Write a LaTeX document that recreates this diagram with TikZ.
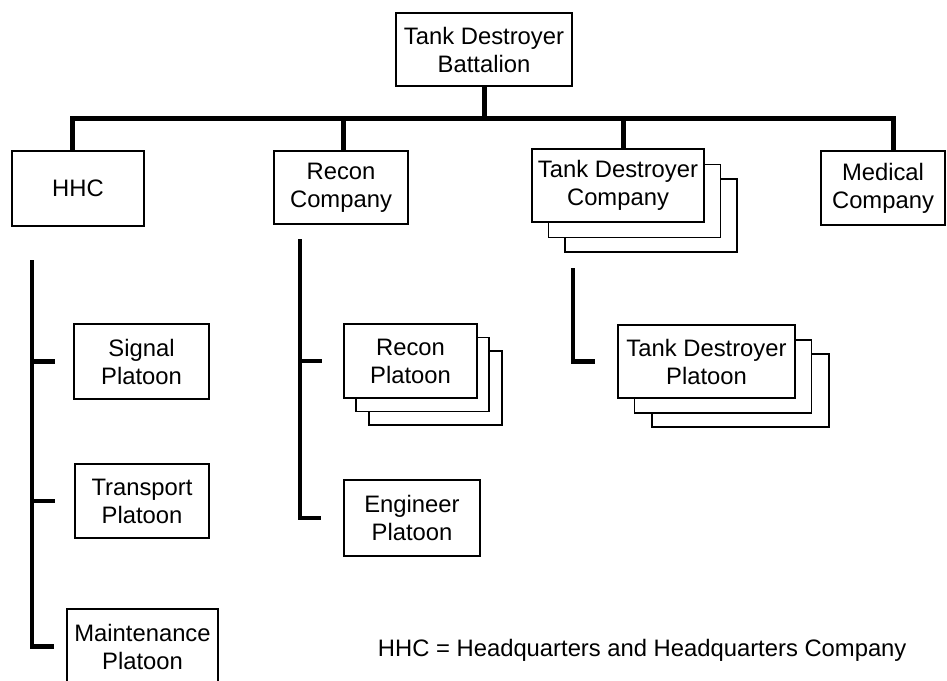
\documentclass[tikz,border=0pt]{standalone}
\usepackage{fontspec}
\setmainfont{Liberation Sans}
\usetikzlibrary{calc}

\tikzset{
  every node/.style = {font = \fontsize{23.8}{28}\selectfont}
}
\tikzset{
  box/.style 2 args = {draw, line width=1.8pt, fill=white, align=center,
    inner sep=0pt, minimum width=#1pt, minimum height=#2pt},
  bar/.style = {line width=5pt},
  tree/.style = {line width=4.5pt}
}

\begin{document}
\begin{tikzpicture}[x=1pt, y=-1pt]
\useasboundingbox (0,0) rectangle (947,680);
\clip (0,0) rectangle (947,680);

% Top level
\node[box={176}{73}] (bat) at (484,49.5) {Tank Destroyer\\Battalion};

% Companies
\node[box={132}{75}] (hhc) at (78,188.5) {HHC};
\node[box={134}{73}] (rco) at (341,187.5) {Recon\\Company};
\foreach \dx/\dy in {33/30, 16.5/15.5}
  \node[box={172}{73}] at ({618+\dx},{185.5+\dy}) {};
\node[box={172}{73}] (tdco) at (618,185.5) {Tank Destroyer\\Company};
\node[box={124}{74}] (med) at (883,188) {Medical\\Company};

% Platoons under HHC
\node[box={135}{75}] (sig) at (141.5,361.5) {Signal\\Platoon};
\node[box={134}{74}] (trn) at (142,501) {Transport\\Platoon};
\node[box={151}{75}] (mnt) at (142.5,646.5) {Maintenance\\Platoon};

% Platoons under Recon
\foreach \dx/\dy in {25/27, 12/13.5}
  \node[box={133}{74}] at ({410.5+\dx},{361+\dy}) {};
\node[box={133}{74}] (rpl) at (410.5,361) {Recon\\Platoon};
\node[box={136}{76}] (eng) at (412,518) {Engineer\\Platoon};

% Platoons under TD company
\foreach \dx/\dy in {34/29, 16.5/15}
  \node[box={177}{73}] at ({706.5+\dx},{361.5+\dy}) {};
\node[box={177}{73}] (tdpl) at (706.5,361.5) {Tank Destroyer\\Platoon};

% Key
\node[anchor=east] (key) at (910,650) {HHC = Headquarters and Headquarters Company};

% Battalion to companies
\coordinate (bar) at (0,118);
\draw[bar] (bat.south) -- (bat.south |- bar);
\draw[bar] ([xshift=-6pt]hhc.north) |- ([xshift=10pt]med.north |- bar) -- ([xshift=10pt]med.north);
\draw[bar] ([xshift=2pt]rco.north) -- ([xshift=2pt]rco.north |- bar);
\draw[bar] ([xshift=5pt]tdco.north) -- ([xshift=5pt]tdco.north |- bar);

% Company lines
\coordinate (hhcl) at (32,260);
\draw[tree] (hhcl) |- ([xshift=-12pt]mnt.west);
\foreach \n in {sig, trn}
  \draw[tree] (hhcl |- \n.west) -- ++(23,0);

\coordinate (rcol) at (300,239);
\draw[tree] (rcol) |- ([xshift=-22pt]eng.west);
\draw[tree] (rcol |- rpl.west) -- ++(22,0);

\coordinate (tdcol) at (573,268);
\draw[tree] (tdcol) |- ([xshift=-22pt]tdpl.west);
\end{tikzpicture}
\end{document}
